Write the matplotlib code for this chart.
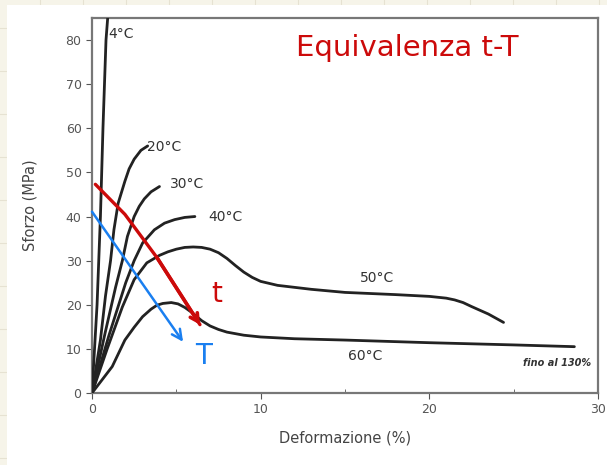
import matplotlib.pyplot as plt
from matplotlib.patches import Rectangle

# ---------------------------------------------------------------------------
# Data (deformation % vs stress MPa)
# ---------------------------------------------------------------------------
x_4 = [0, 0.3, 0.5, 0.65, 0.83, 0.95]
y_4 = [0, 20, 40, 60, 80, 86]

x_20 = [0, 0.5, 0.8, 1.1, 1.3, 1.55, 1.95, 2.2, 2.5, 2.9, 3.3]
y_20 = [0, 12, 22, 30, 37, 43, 48, 50.8, 53, 55, 56]

x_30 = [0, 0.8, 1.4, 1.8, 2.1, 2.5, 2.8, 3.1, 3.5, 4.0]
y_30 = [0, 14, 24, 30, 35.5, 40, 42.3, 44, 45.6, 46.8]

x_40 = [0, 1.0, 2.0, 2.5, 3.0, 3.7, 4.3, 4.9, 5.5, 6.1]
y_40 = [0, 13, 25, 30, 34, 37, 38.5, 39.3, 39.8, 40]

x_50 = [0, 0.9, 1.8, 2.5, 3.25, 4.0, 4.5, 5.0, 5.5, 6.0, 6.5, 7.0, 7.5, 8.0, 8.5, 9.0,
        9.5, 10, 11, 13, 15, 18, 20, 21.0, 21.5, 22.0, 22.5, 23.5, 24.4]
y_50 = [0, 10, 19.5, 25.7, 29.5, 31.2, 32.0, 32.6, 33, 33.1, 33, 32.6, 31.8, 30.5, 28.9, 27.4,
        26.2, 25.3, 24.4, 23.5, 22.8, 22.3, 21.9, 21.5, 21.1, 20.5, 19.6, 17.9, 16]

x_60 = [0, 1.2, 1.95, 2.5, 3.0, 3.5, 3.85, 4.2, 4.7, 5.1, 5.5, 5.9, 6.5, 7.0, 7.5, 8.0,
        9.0, 10, 12, 15, 20, 25, 28.6]
y_60 = [0, 6, 12, 14.9, 17.3, 19.0, 19.9, 20.3, 20.5, 20.2, 19.4, 18.3, 16.4, 15.2, 14.4, 13.8,
        13.1, 12.7, 12.3, 12, 11.4, 10.9, 10.5]

curve_labels = ["4°C", "20°C", "30°C", "40°C", "50°C", "60°C"]
label_x = [0.95, 3.25, 4.6, 6.9, 16.9, 16.2]
label_y = [81.4, 55.7, 47.3, 39.8, 26.1, 8.4]

# hand-drawn annotations
red_arrow_x = [0.2, 1.95, 3.85, 6.4]
red_arrow_y = [47.3, 40.5, 30.7, 15.5]
blue_arrow_x = [0.0, 5.4]
blue_arrow_y = [41.1, 11.6]

x_ticks = [0, 10, 20, 30]
y_ticks = [0, 10, 20, 30, 40, 50, 60, 70, 80]

# ---------------------------------------------------------------------------
# Figure with notebook-page background
# ---------------------------------------------------------------------------
W, H = 607, 465
fig = plt.figure(figsize=(W / 100, H / 100), dpi=100)
fig.patch.set_facecolor("#f6f4e9")

# faint notebook grid in the cream margins
for gx in range(-3, W, 43):
    fig.add_artist(plt.Line2D([gx / W, gx / W], [0, 1], color="#e6e2d2", lw=0.8,
                              transform=fig.transFigure, zorder=0))
for gy in range(28, H, 43):
    fig.add_artist(plt.Line2D([0, 1], [1 - gy / H, 1 - gy / H], color="#e6e2d2", lw=0.8,
                              transform=fig.transFigure, zorder=0))
fig.add_artist(Rectangle((7 / W, 0), 1, 1 - 5 / H, transform=fig.transFigure,
                         facecolor="white", edgecolor="none", zorder=0.5))

ax = fig.add_axes([92 / W, 1 - 393 / H, (598 - 92) / W, (393 - 18) / H])
ax.set_zorder(1)

ink = "#222222"
for xs, ys in [(x_4, y_4), (x_20, y_20), (x_30, y_30), (x_40, y_40), (x_50, y_50), (x_60, y_60)]:
    ax.plot(xs, ys, color=ink, lw=2.0, solid_capstyle="round", solid_joinstyle="round", zorder=3)

for lab, lx, ly in zip(curve_labels, label_x, label_y):
    ha = "center" if lab in ("50°C", "60°C") else "left"
    ax.text(lx, ly, lab, fontsize=10, color="#333333", ha=ha, va="center")

ax.text(29.6, 6.8, "fino al 130%", fontsize=7, style="italic", weight="bold",
        color="#333333", ha="right", va="center")

ax.set_xlim(0, 30)
ax.set_ylim(0, 85)
ax.set_xticks(x_ticks)
ax.set_xticks([5, 15, 25], minor=True)
ax.set_yticks(y_ticks)
ax.tick_params(labelsize=9, labelcolor="#555555", color="#555555", length=4)
ax.tick_params(which="minor", length=3, direction="in", color="#555555")
for s in ax.spines.values():
    s.set_color("#777777")
    s.set_linewidth(1.6)
ax.set_xlabel("Deformazione (%)", fontsize=10.5, color="#444444", labelpad=10)
ax.set_ylabel("Sforzo (MPa)", fontsize=10.5, color="#444444", labelpad=20)

# red curved arrow (time)
red = "#cc0a0a"
ax.plot(red_arrow_x, red_arrow_y, color=red, lw=2.4,
        solid_capstyle="round", solid_joinstyle="round", zorder=5)
ax.annotate("", xy=(red_arrow_x[-1], red_arrow_y[-1]),
            xytext=(red_arrow_x[-2], red_arrow_y[-2]),
            arrowprops=dict(arrowstyle="->,head_length=0.55,head_width=0.3", color=red,
                            lw=2.6, shrinkA=0, shrinkB=0), zorder=5)

# blue arrow (temperature)
blue = "#1a7ff0"
ax.annotate("", xy=(blue_arrow_x[1], blue_arrow_y[1]),
            xytext=(blue_arrow_x[0], blue_arrow_y[0]),
            arrowprops=dict(arrowstyle="->,head_length=0.7,head_width=0.35", color=blue,
                            lw=1.8, shrinkA=0, shrinkB=0), zorder=5)

ax.text(7.4, 22.5, "t", fontsize=20, color=red, ha="center", va="center")
ax.text(6.6, 8.5, "T", fontsize=20, color=blue, ha="center", va="center")

fig.text(296 / W, 1 - 48 / H, "Equivalenza t-T", fontsize=21, color=red,
         ha="left", va="center")

fig.savefig("out.png", dpi=100, facecolor=fig.get_facecolor())
